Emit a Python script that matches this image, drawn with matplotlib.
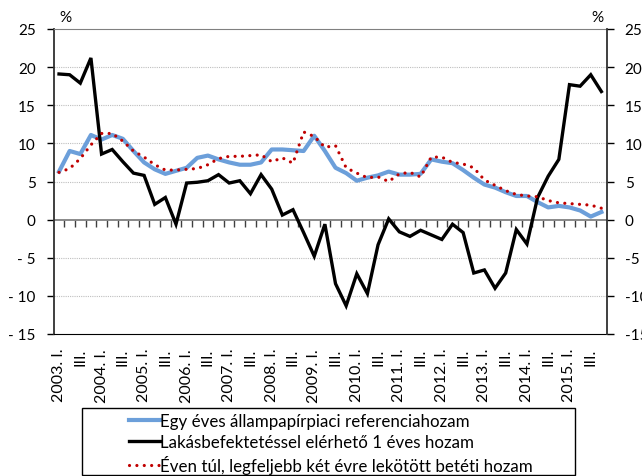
import matplotlib.pyplot as plt
import numpy as np
from matplotlib.patches import Rectangle

plt.rcParams['font.family'] = ['Lato', 'DejaVu Sans']

years = list(range(2003, 2016))

allampapir = [6.3, 9.0, 8.6, 11.1, 10.5, 11.1, 10.6, 9.0, 7.5, 6.6, 6.0, 6.4, 6.8,
              8.1, 8.4, 7.9, 7.5, 7.2, 7.2, 7.5, 9.2, 9.2, 9.1, 9.0, 11.0, 9.0,
              6.8, 6.1, 5.1, 5.5, 5.8, 6.3, 5.9, 5.9, 6.0, 7.9, 7.6, 7.4, 6.5,
              5.5, 4.6, 4.2, 3.6, 3.1, 3.1, 2.3, 1.6, 1.8, 1.6, 1.2, 0.4, 1.0]
lakas = [19.1, 19.0, 17.9, 21.2, 8.6, 9.2, 7.6, 6.1, 5.8, 2.0, 2.9, -0.6, 4.8,
         4.9, 5.1, 5.9, 4.8, 5.1, 3.4, 5.9, 4.0, 0.6, 1.3, -1.7, -4.8, -0.6,
         -8.4, -11.3, -7.1, -9.7, -3.3, 0.1, -1.6, -2.2, -1.4, -2.0, -2.6, -0.6, -1.7,
         -7.0, -6.6, -9.0, -7.0, -1.3, -3.2, 2.9, 5.7, 7.9, 17.7, 17.5, 19.0, 16.8]
betet = [6.2, 6.7, 8.0, 9.8, 11.3, 11.3, 10.3, 9.0, 8.2, 7.2, 6.5, 6.5, 6.6,
         6.7, 7.2, 8.0, 8.3, 8.3, 8.4, 8.5, 7.6, 8.1, 7.4, 11.5, 10.9, 9.5,
         9.7, 6.8, 6.1, 5.5, 5.6, 5.0, 6.0, 6.2, 5.6, 8.2, 8.2, 7.5, 7.3,
         6.8, 5.2, 4.5, 3.8, 3.3, 3.1, 3.0, 2.5, 2.2, 2.1, 2.0, 1.9, 1.5]

names = ["Egy éves állampapírpiaci referenciahozam",
         "Lakásbefektetéssel elérhető 1 éves hozam",
         "Éven túl, legfeljebb két évre lekötött betéti hozam"]

x = np.arange(len(lakas))
xlabels = []
for y in years:
    xlabels += [f"{y}. I.", "III."]

fig = plt.figure(figsize=(6.42, 4.77), dpi=100)
ax = fig.add_axes([53.7 / 642, 1 - 335 / 477, 553 / 642, 305 / 477])

ax.plot(x, allampapir, color='#6C9FDA', lw=3.0, solid_joinstyle='round', label=names[0], zorder=3)
ax.plot(x, lakas, color='black', lw=2.4, solid_joinstyle='miter', label=names[1], zorder=4)
ax.plot(x, betet, color='#C00000', lw=2.3, linestyle=(0, (0.01, 2.3)),
        dash_capstyle='round', label=names[2], zorder=5)

ax.set_xlim(-0.5, len(x) - 0.5)
ax.set_ylim(-15, 25)
yt = list(range(-15, 26, 5))
ax.set_yticks(yt)
ax.set_yticklabels([f"- {-v}" if v < 0 else str(v) for v in yt], fontsize=11)
ax.tick_params(axis='y', direction='out', length=5, width=1, pad=8)

ax.set_xticks(x[::2])
ax.set_xticklabels(xlabels, rotation=90, fontsize=11.5)
ax.tick_params(axis='x', length=0, pad=10)

for v in [-10, -5, 5, 10, 15, 20]:
    ax.axhline(v, color='#BFBFBF', lw=0.8, ls=(0, (1, 1)), zorder=1)
ax.axhline(0, color='#808080', lw=1.3, zorder=2)

zero_axis = ax.secondary_xaxis(15 / 40)
zero_axis.set_xticks(np.arange(0.5, len(x) - 1, 1))
zero_axis.set_xticklabels([])
zero_axis.tick_params(direction='out', length=5, width=1, color='#404040')
zero_axis.spines['bottom'].set_visible(False)

ax.spines['top'].set_color('#808080')
ax.spines['bottom'].set_color('black')
ax.spines['left'].set_color('#303030')
ax.spines['left'].set_linewidth(1.3)
ax.spines['right'].set_visible(False)

ax2 = ax.twinx()
ax2.set_ylim(-15, 25)
ax2.set_yticks(yt)
ax2.set_yticklabels([str(v) for v in yt], fontsize=11)
ax2.tick_params(axis='y', direction='out', length=5, width=1, pad=8)
ax2.spines['right'].set_color('#303030')
ax2.spines['right'].set_linewidth(1.3)
for s in ['top', 'bottom', 'left']:
    ax2.spines[s].set_visible(False)

fig.text(65 / 642, 1 - 18 / 477, "%", fontsize=11, ha='center', va='center')
fig.text(597 / 642, 1 - 18 / 477, "%", fontsize=11, ha='center', va='center')

leg = fig.legend(loc='upper left', bbox_to_anchor=(129 / 642, 1 - 414 / 477),
                 frameon=False, fontsize=12.2, handlelength=1.8, handletextpad=0.05,
                 labelspacing=0.3, borderpad=0, borderaxespad=0)
fig.patches.append(Rectangle((82 / 642, 1 - 476 / 477), 493 / 642, 67 / 477,
                             transform=fig.transFigure, fill=False, edgecolor='black', lw=1))

plt.savefig("out.png", dpi=100)
